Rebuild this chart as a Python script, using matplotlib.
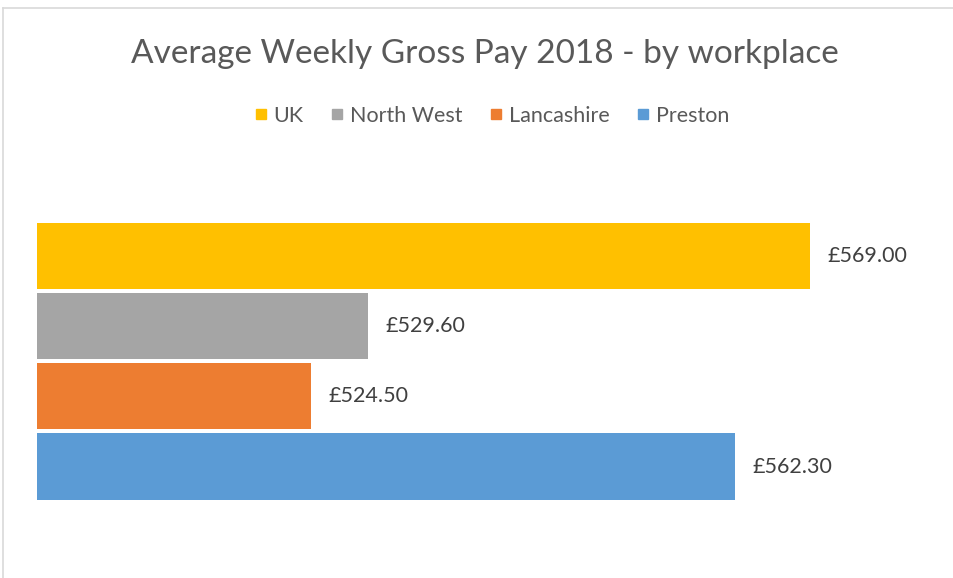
import matplotlib.pyplot as plt
from matplotlib.lines import Line2D

# Data
series = ["UK", "North West", "Lancashire", "Preston"]
pay = [569.00, 529.60, 524.50, 562.30]
colors = ["#FFC000", "#A5A5A5", "#ED7D31", "#5B9BD5"]

plt.rcParams['font.family'] = ['Lato', 'DejaVu Sans']

fig = plt.figure(figsize=(9.54, 5.78), dpi=100)
ax = fig.add_axes([37/954, 38/578, (933-37)/954, 360/578])

n = len(series)
for i, (name, v, c) in enumerate(zip(series, pay, colors)):
    pos = n - 1 - i
    ax.barh(pos, v - 500, left=500, height=0.94, color=c, label=name)
    ax.text(v + 1.6, pos, "£%.2f" % v, va='center', ha='left',
            fontsize=15.5, color='#404040')

ax.set_xlim(500.1, 580)
ax.set_ylim(-1.045, 4.075)
ax.axis('off')

fig.suptitle("Average Weekly Gross Pay 2018 - by workplace", x=485/954,
             y=1 - 54/578, va='center', fontsize=24, color='#595959')

handles = [Line2D([], [], marker='s', linestyle='none', markersize=6.5,
                  color=c) for c in colors]
fig.legend(handles, series, loc='center', bbox_to_anchor=(491/954, 1 - 116/578),
           ncol=4, frameon=False, fontsize=15.5, labelcolor='#595959',
           handletextpad=0.25, columnspacing=1.2, handlelength=0.7)

# chart border
fig.add_artist(Line2D([3/954, 1], [1 - 8/578, 1 - 8/578], color='#D9D9D9', lw=1.2))
fig.add_artist(Line2D([3/954, 3/954], [0, 1 - 8/578], color='#D9D9D9', lw=1.2))

plt.savefig("out.png", dpi=100)
